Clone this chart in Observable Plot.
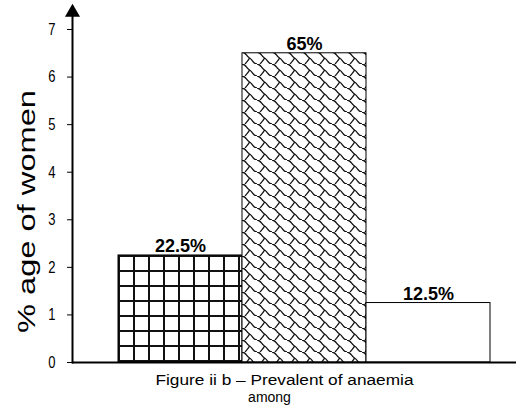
<!DOCTYPE html>
<html>
<head>
<meta charset="utf-8">
<script src="https://cdn.jsdelivr.net/npm/d3@7"></script>
<script src="https://cdn.jsdelivr.net/npm/@observablehq/plot@0.6"></script>
<style>
  html, body { margin: 0; padding: 0; background: #fff; }
  svg { display: block; }
</style>
</head>
<body>
<div id="chart"></div>
<script>
// Share of women in each anaemia group (percent); bar height is percent / 10
const groups = ["Group 1", "Group 2", "Group 3"];
const percents = [22.5, 65, 12.5];
const yTicks = [0, 1, 2, 3, 4, 5, 6, 7];
const yLabel = "% age of women";
const captionLine1 = "Figure ii b \u2013 Prevalent of anaemia";
const captionLine2 = "among";

const data = groups.map((g, i) => ({group: g, pct: percents[i]}));

const chart = Plot.plot({
  width: 519,
  height: 410,
  marginTop: 12,
  marginLeft: 72,
  marginRight: 3,
  marginBottom: 48,
  style: {fontFamily: "'Liberation Sans', Arial, sans-serif", background: "white", color: "black"},
  x: {domain: groups, range: [117, 491], padding: 0, axis: null},
  y: {domain: [0, 7], range: [362, 29], axis: null},
  color: {domain: groups, range: ["url(#grid)", "url(#shingle)", "white"]},
  marks: [
    Plot.barY(data, {x: "group", y: d => d.pct / 10, fill: "group", stroke: "black", strokeWidth: 1}),
    Plot.text(data, {
      x: "group", y: d => d.pct / 10, text: d => `${d.pct}%`,
      lineAnchor: "bottom", dy: -3, fontSize: 18, fontWeight: "bold", fill: "black"
    }),
    Plot.axisY({ticks: yTicks, tickSize: 5, tickPadding: 12, fontSize: 13, tickFormat: d => d, label: null}),
    Plot.frame({anchor: "left", strokeWidth: 2}),
    Plot.ruleY([0], {strokeWidth: 2}),
    // arrowhead at the top of the value axis
    Plot.dot([0], {frameAnchor: "top-left", symbol: "triangle", r: 5.6, fill: "black", stroke: null}),
    Plot.text([yLabel], {
      frameAnchor: "left", rotate: -90, dx: -45, dy: 24,
      fontSize: 23, textAnchor: "middle", lineAnchor: "middle", fill: "black"
    }),
    Plot.text([captionLine1], {frameAnchor: "bottom", dx: -10, dy: 18, fontSize: 14, lineAnchor: "middle", fill: "black"}),
    Plot.text([captionLine2], {frameAnchor: "bottom", dx: -25, dy: 35, fontSize: 14, lineAnchor: "middle", fill: "black"})
  ]
});

// fill patterns used by the bars
const svg = d3.select(chart);
const defs = svg.insert("defs", ":first-child");

const grid = defs.append("pattern")
  .attr("id", "grid").attr("patternUnits", "userSpaceOnUse")
  .attr("x", 13).attr("y", 0).attr("width", 15).attr("height", 15);
grid.append("rect").attr("width", 15).attr("height", 15).attr("fill", "white");
grid.append("path").attr("d", "M1,0V15M0,1H15").attr("stroke", "#111").attr("stroke-width", 2).attr("fill", "none");

const shingle = defs.append("pattern")
  .attr("id", "shingle").attr("patternUnits", "userSpaceOnUse")
  .attr("x", 2).attr("y", 4).attr("width", 15).attr("height", 12);
shingle.append("rect").attr("width", 15).attr("height", 12).attr("fill", "white");
shingle.append("path")
  .attr("d", "M0,0 C4,0 4,4 7.5,6 C11,8 11,12 15,12 M7.5,6 C6.5,9 4,10 3,12.5")
  .attr("stroke", "#111").attr("stroke-width", 1.3).attr("fill", "none");

// stretch the rotated axis title along its length
svg.selectAll("text").filter(function() { return this.textContent === yLabel; })
  .attr("textLength", 243).attr("lengthAdjust", "spacingAndGlyphs");
svg.selectAll("text").filter(function() { return this.textContent === captionLine1; })
  .attr("textLength", 258).attr("lengthAdjust", "spacingAndGlyphs");

// tick numbers are drawn tall and narrow
const tickStrings = new Set(yTicks.map(String));
svg.selectAll("text").filter(function() { return tickStrings.has(this.textContent); }).each(function() {
  const t = this.getAttribute("transform");
  if (t) {
    this.setAttribute("transform", t + " scale(1,1.3)");
  } else {
    const x = +this.getAttribute("x") || 0, y = +this.getAttribute("y") || 0;
    this.setAttribute("x", 0);
    this.setAttribute("y", 0);
    this.setAttribute("transform", `translate(${x},${y}) scale(1,1.3)`);
  }
});

document.getElementById("chart").appendChild(chart);
</script>
</body>
</html>
